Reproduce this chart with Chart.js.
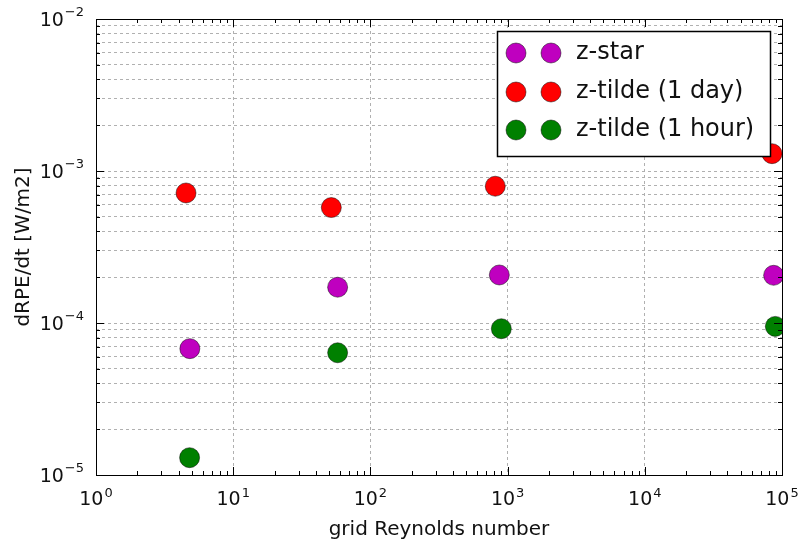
<!DOCTYPE html>
<html>
<head>
<meta charset="utf-8">
<script src="https://cdn.jsdelivr.net/npm/chart.js@4/dist/chart.umd.min.js"></script>
<style>
  html, body { margin: 0; padding: 0; background: #fff; }
  #rpe-chart { display: block; }
</style>
</head>
<body>
<canvas id="rpe-chart" width="800" height="546"></canvas>
<script>
// datos
const seriesLabels = ["z-star", "z-tilde (1 day)", "z-tilde (1 hour)"];
const seriesColors = ["#bf00bf", "#ff0000", "#008000"];

const reynoldsStar = [4.83, 57.7, 870, 86900];
const dRPEStar = [6.78e-5, 1.72e-4, 2.07e-4, 2.06e-4];

const reynoldsDay = [4.53, 51.9, 813, 84600];
const dRPEDay = [7.17e-4, 5.75e-4, 7.94e-4, 1.30e-3];

const reynoldsHour = [4.81, 57.7, 900, 89400];
const dRPEHour = [1.30e-5, 6.37e-5, 9.17e-5, 9.50e-5];

const xDecades = [0, 1, 2, 3, 4, 5];
const yDecades = [-5, -4, -3, -2];

const FONT = "'DejaVu Sans', 'Liberation Sans', sans-serif";

function toPoints(xs, ys) {
  return xs.map((x, i) => ({ x: x, y: ys[i] }));
}

function logTicks(decades) {
  const ticks = [];
  for (let i = 0; i < decades.length; i++) {
    const base = Math.pow(10, decades[i]);
    if (i === decades.length - 1) {
      ticks.push({ value: base });
      break;
    }
    for (let m = 1; m <= 9; m++) ticks.push({ value: m * base });
  }
  return ticks;
}

function isDecade(v) {
  const l = Math.log10(v);
  return Math.abs(l - Math.round(l)) < 1e-9;
}

function expText(v) {
  const e = Math.round(Math.log10(v));
  return e < 0 ? "\u2212" + Math.abs(e) : String(e);
}

// marcas hacia dentro, marco, etiquetas 10^n y leyenda con dos marcadores
const axesDecor = {
  id: "axesDecor",
  afterDatasetsDraw(chart) {
    const ctx = chart.ctx;
    const a = chart.chartArea;
    const xs = chart.scales.x;
    const ys = chart.scales.y;
    ctx.save();
    ctx.strokeStyle = "#000";
    ctx.lineWidth = 1;
    ctx.beginPath();
    xs.ticks.forEach((t) => {
      const px = Math.round(xs.getPixelForValue(t.value)) + 0.5;
      const len = isDecade(t.value) ? 8 : 4;
      ctx.moveTo(px, a.bottom); ctx.lineTo(px, a.bottom - len);
      ctx.moveTo(px, a.top); ctx.lineTo(px, a.top + len);
    });
    ys.ticks.forEach((t) => {
      const py = Math.round(ys.getPixelForValue(t.value)) + 0.5;
      const len = isDecade(t.value) ? 8 : 4;
      ctx.moveTo(a.left, py); ctx.lineTo(a.left + len, py);
      ctx.moveTo(a.right, py); ctx.lineTo(a.right - len, py);
    });
    ctx.stroke();
    ctx.strokeRect(Math.round(a.left) + 0.5, Math.round(a.top) + 0.5,
      Math.round(a.right - a.left), Math.round(a.bottom - a.top));

    // etiquetas de los ejes
    ctx.fillStyle = "#111";
    ctx.textBaseline = "middle";
    const bigFont = "19px " + FONT;
    const smallFont = "13px " + FONT;
    xs.ticks.forEach((t) => {
      if (!isDecade(t.value)) return;
      const px = xs.getPixelForValue(t.value);
      const ex = expText(t.value);
      ctx.font = bigFont;
      const w10 = ctx.measureText("10").width;
      ctx.font = smallFont;
      const we = ctx.measureText(ex).width;
      const x0 = px - (w10 + we + 1) / 2;
      ctx.textAlign = "left";
      ctx.font = bigFont;
      ctx.fillText("10", x0, a.bottom + 25);
      ctx.font = smallFont;
      ctx.fillText(ex, x0 + w10 + 1, a.bottom + 19);
    });
    ys.ticks.forEach((t) => {
      if (!isDecade(t.value)) return;
      const py = ys.getPixelForValue(t.value);
      const ex = expText(t.value);
      ctx.font = smallFont;
      const we = ctx.measureText(ex).width;
      const right = a.left - 12;
      ctx.textAlign = "right";
      ctx.fillText(ex, right, py - 6);
      ctx.font = bigFont;
      ctx.fillText("10", right - we - 1, py + 2);
    });
    ctx.restore();
  },
  afterDraw(chart) {
    const ctx = chart.ctx;
    const box = { left: 497, top: 31, width: 273, height: 125 };
    const rows = [53, 92, 130];
    ctx.save();
    ctx.fillStyle = "#fff";
    ctx.fillRect(box.left, box.top, box.width, box.height);
    ctx.strokeStyle = "#000";
    ctx.lineWidth = 1.5;
    ctx.strokeRect(box.left + 0.5, box.top + 0.5, box.width, box.height);
    chart.data.datasets.forEach((ds, i) => {
      const y = rows[i];
      [516, 551].forEach((mx) => {
        ctx.beginPath();
        ctx.arc(mx, y, 10, 0, Math.PI * 2);
        ctx.fillStyle = ds.backgroundColor;
        ctx.fill();
        ctx.lineWidth = 0.8;
        ctx.strokeStyle = "rgba(0,0,0,0.6)";
        ctx.stroke();
      });
      ctx.fillStyle = "#111";
      ctx.font = "24px " + FONT;
      ctx.textAlign = "left";
      ctx.textBaseline = "middle";
      ctx.fillText(ds.label, 576, y);
    });
    ctx.restore();
  },
};

const datasets = [
  toPoints(reynoldsStar, dRPEStar),
  toPoints(reynoldsDay, dRPEDay),
  toPoints(reynoldsHour, dRPEHour),
].map((pts, i) => ({
  label: seriesLabels[i],
  data: pts,
  backgroundColor: seriesColors[i],
  borderColor: "rgba(0,0,0,0.6)",
  borderWidth: 0.8,
  pointRadius: 10,
  pointHoverRadius: 10,
  clip: 0,
}));

const rpeChart = new Chart(document.querySelector("#rpe-chart").getContext("2d"), {
  type: "scatter",
  data: { datasets: datasets },
  options: {
    responsive: false,
    animation: false,
    events: [],
    layout: { padding: { left: 0, right: 18, top: 19, bottom: 0 } },
    plugins: { legend: { display: false }, tooltip: { enabled: false } },
    scales: {
      x: {
        type: "logarithmic",
        min: Math.pow(10, xDecades[0]),
        max: Math.pow(10, xDecades[xDecades.length - 1]),
        afterBuildTicks: (s) => { s.ticks = logTicks(xDecades); },
        afterFit: (s) => { s.height = 71; },
        ticks: { display: false },
        grid: {
          drawTicks: false,
          lineWidth: 1,
          color: (c) => (c.tick && isDecade(c.tick.value) ? "#b0b0b0" : "rgba(0,0,0,0)"),
        },
        border: { display: false, dash: [3, 3] },
        title: {
          display: true,
          text: "grid Reynolds number",
          color: "#111",
          font: { family: FONT, size: 20 },
          padding: { top: 0, bottom: 4 },
        },
      },
      y: {
        type: "logarithmic",
        min: Math.pow(10, yDecades[0]),
        max: Math.pow(10, yDecades[yDecades.length - 1]),
        afterBuildTicks: (s) => { s.ticks = logTicks(yDecades); },
        afterFit: (s) => { s.width = 96; },
        ticks: { display: false },
        grid: { drawTicks: false, lineWidth: 1, color: "#b0b0b0" },
        border: { display: false, dash: [3, 3] },
        title: {
          display: true,
          text: "dRPE/dt [W/m2]",
          color: "#111",
          font: { family: FONT, size: 20 },
          padding: { top: 12, bottom: 0 },
        },
      },
    },
  },
  plugins: [axesDecor],
});
</script>
</body>
</html>
